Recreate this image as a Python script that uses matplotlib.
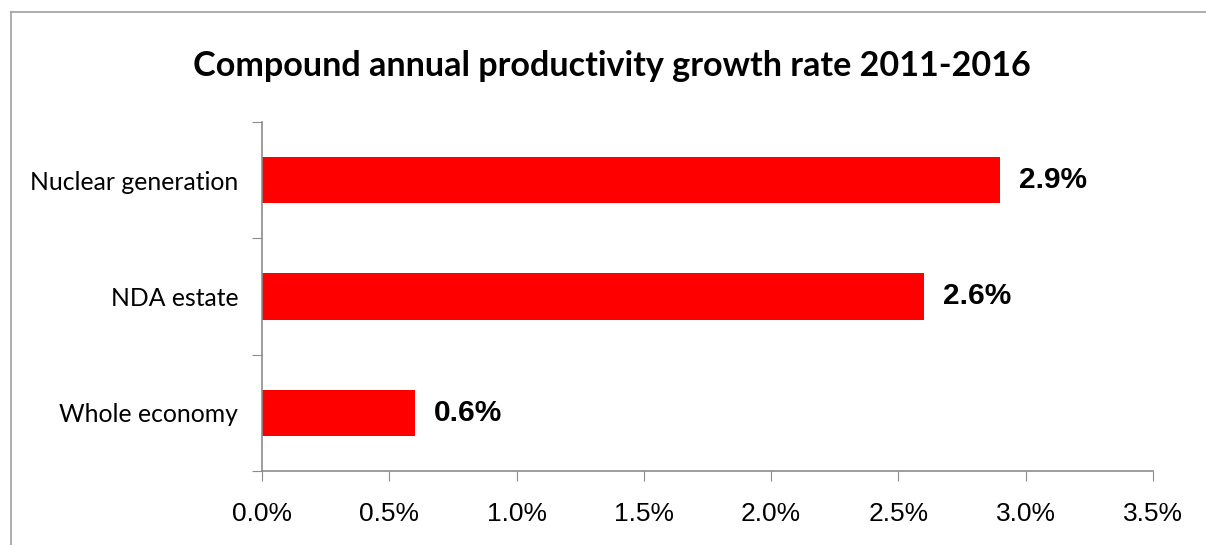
"""Horizontal bar chart of compound annual productivity growth."""
import matplotlib.pyplot as plt
from matplotlib.lines import Line2D
from matplotlib.ticker import FuncFormatter

categories = ["Whole economy", "NDA estate", "Nuclear generation"]
growth_pct = [0.6, 2.6, 2.9]
x_ticks = [0.0, 0.5, 1.0, 1.5, 2.0, 2.5, 3.0, 3.5]

BAR_RED = "#ff0000"
AXIS_GREY = "#8c8c8c"


def main() -> None:
    fig = plt.figure(figsize=(12.06, 5.45), dpi=100)
    ax = fig.add_axes([0.2172, 0.1358, 0.7388, 0.6404])

    ypos = range(len(categories))
    ax.barh(ypos, growth_pct, height=0.4, color=BAR_RED)

    for y, v in zip(ypos, growth_pct):
        ax.text(v + 0.075, y, f"{v:.1f}%", va="center", ha="left",
                fontsize=21.5, fontweight="bold", family="Liberation Sans")

    ax.set_xlim(0, 3.5)
    ax.set_ylim(-0.5, len(categories) - 0.5)
    ax.set_xticks(x_ticks)
    ax.xaxis.set_major_formatter(FuncFormatter(lambda v, _: f"{v:.1f}%"))
    for lab in ax.get_xticklabels():
        lab.set_family("Liberation Sans")
        lab.set_fontsize(19)

    # category boundaries get the tick marks, names sit between them
    ax.set_yticks([i - 0.5 for i in range(len(categories) + 1)])
    ax.set_yticklabels([])
    ax.set_yticks(list(ypos), minor=True)
    ax.set_yticklabels(categories, minor=True, fontsize=17.8, family="Lato")
    ax.tick_params(axis="y", which="minor", length=0, pad=17)
    ax.tick_params(axis="y", which="major", length=7, color=AXIS_GREY,
                   direction="out")
    ax.tick_params(axis="x", length=7, color=AXIS_GREY, direction="out",
                   pad=15)

    for side in ("top", "right"):
        ax.spines[side].set_visible(False)
    for side in ("left", "bottom"):
        ax.spines[side].set_color(AXIS_GREY)
        ax.spines[side].set_linewidth(1.2)

    fig.text(0.507, 0.879, "Compound annual productivity growth rate 2011-2016",
             ha="center", va="center", fontsize=24.6, fontweight="bold",
             family="Lato")

    # chart-area frame
    fig.add_artist(Line2D([0.0091, 0.0091], [0, 0.978], transform=fig.transFigure,
                          color="#a0a0a0", lw=1.2))
    fig.add_artist(Line2D([0.0091, 1], [0.978, 0.978], transform=fig.transFigure,
                          color="#a0a0a0", lw=1.2))

    fig.savefig("out.png", dpi=100)
    plt.close(fig)


if __name__ == "__main__":
    main()
